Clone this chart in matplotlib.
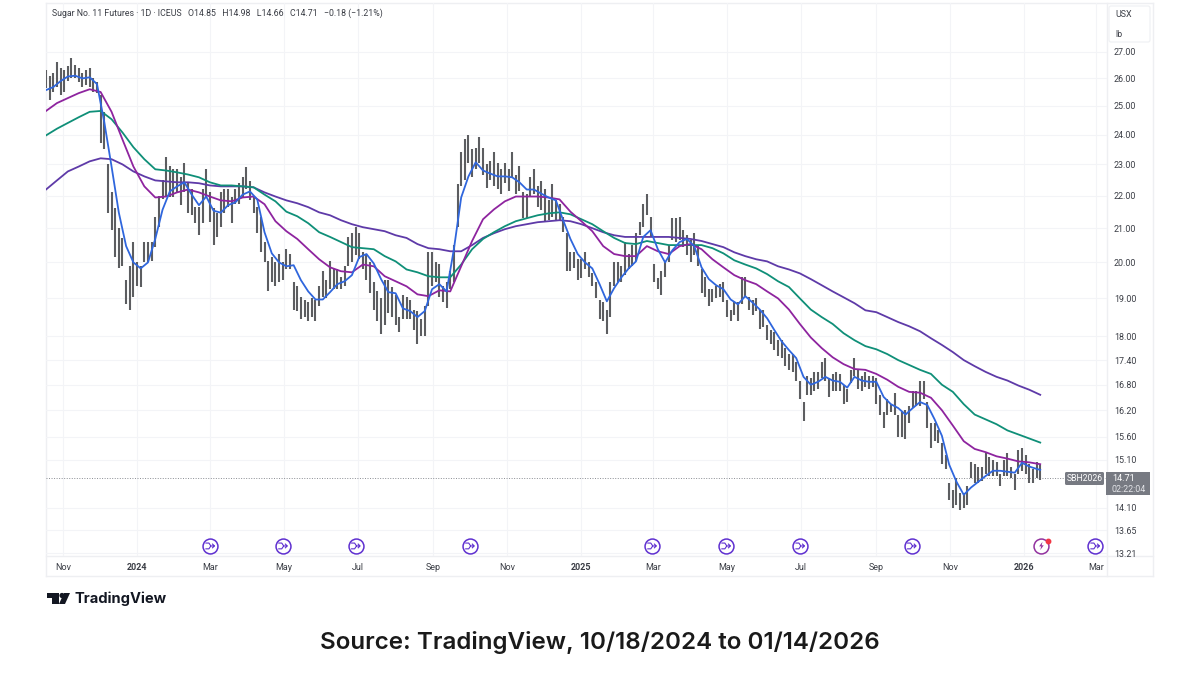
#!/usr/bin/env python3
"""Sugar No. 11 futures daily chart with moving averages, TradingView look."""

import matplotlib
matplotlib.use("Agg")
import matplotlib.pyplot as plt
import pandas as pd
from matplotlib.patches import Circle, FancyBboxPatch, Polygon, Rectangle
from matplotlib.path import Path

W, H = 1200, 675

bar_highs = [
    26.3, 26.1, 26.2, 26.6, 26.4, 26.3, 26.45, 26.75, 26.5, 26.4,
    26.2, 26.3, 26.4, 26.0, 25.85, 25.4, 24.8, 23.0, 22.1, 21.6,
    21.0, 20.7, 19.5, 19.9, 20.6, 20.0, 19.9, 20.6, 20.6, 20.6,
    21.35, 22.0, 22.5, 23.25, 22.95, 22.85, 22.85, 22.6, 23.05, 22.4,
    22.2, 21.65, 21.65, 22.2, 22.85, 22.1, 21.6, 21.45, 22.1, 22.2,
    22.2, 21.95, 22.2, 22.4, 22.6, 22.9, 22.45, 21.95, 21.65, 21.35,
    20.6, 20.05, 20.15, 20.0, 20.25, 20.0, 20.4, 20.25, 19.45, 19.35,
    19.05, 18.95, 18.9, 19.0, 18.95, 19.35, 19.75, 19.5, 20.05, 19.8,
    19.8, 19.6, 19.9, 20.75, 20.85, 21.05, 20.85, 20.3, 20.2, 20.0,
    19.45, 19.2, 19.0, 19.5, 19.5, 19.3, 19.1, 18.5, 19.1, 19.05,
    18.95, 18.7, 18.65, 18.45, 18.8, 20.3, 20.3, 20.0, 19.95, 19.35,
    19.45, 19.75, 20.5, 22.35, 23.4, 23.85, 24.0, 23.5, 23.55, 23.9,
    23.55, 23.0, 23.1, 23.4, 23.05, 22.85, 23.05, 22.85, 23.4, 22.65,
    22.95, 22.1, 22.05, 22.6, 22.85, 22.3, 22.45, 22.2, 21.85, 22.35,
    21.85, 21.75, 21.35, 20.85, 20.3, 20.3, 20.1, 20.1, 20.3, 20.0,
    19.7, 19.45, 18.95, 18.9, 18.7, 19.45, 20.0, 20.0, 19.9, 20.6,
    20.25, 20.5, 20.85, 21.2, 21.75, 22.05, 21.35, 19.95, 19.55, 19.75,
    20.0, 20.5, 21.3, 21.3, 21.35, 20.95, 20.8, 20.65, 20.85, 20.5,
    19.8, 19.6, 19.25, 19.25, 19.35, 19.4, 19.45, 18.95, 18.7, 18.9,
    18.9, 19.6, 19.6, 19.05, 18.95, 19.0, 18.7, 18.7, 18.3, 18.15,
    18.1, 17.9, 17.9, 17.7, 17.55, 17.55, 17.35, 16.9, 16.4, 17.0,
    16.95, 17.1, 17.1, 17.35, 17.45, 16.95, 17.05, 17.1, 17.05, 16.8,
    16.7, 17.15, 17.45, 17.15, 17.0, 17.1, 17.0, 17.0, 16.95, 16.55,
    16.15, 16.45, 16.35, 16.6, 16.1, 16.15, 16.2, 16.3, 16.65, 16.65,
    16.9, 16.9, 16.4, 15.9, 15.9, 15.75, 15.45, 15.2, 14.6, 14.45,
    14.7, 14.4, 14.4, 14.55, 15.05, 15.0, 14.95, 14.95, 15.25, 15.15,
    15.1, 15.05, 14.8, 15.1, 15.25, 14.95, 14.8, 15.3, 15.35, 15.2,
    15.0, 14.9, 15.05, 14.98,
]
bar_lows = [
    25.65, 25.2, 25.5, 25.7, 25.4, 25.5, 25.9, 26.0, 26.0, 25.85,
    25.7, 25.75, 25.7, 25.5, 25.45, 23.7, 23.5, 21.45, 20.95, 20.15,
    19.85, 19.9, 18.85, 18.7, 19.05, 19.35, 19.3, 20.0, 20.0, 20.05,
    20.45, 21.05, 21.9, 21.95, 21.95, 21.95, 22.1, 21.7, 22.1, 21.45,
    21.4, 21.15, 20.8, 21.15, 21.95, 21.2, 20.5, 20.75, 21.05, 21.45,
    21.65, 21.15, 21.75, 21.75, 21.95, 22.2, 21.85, 21.45, 20.85, 20.3,
    20.0, 19.2, 19.45, 19.35, 19.45, 19.5, 19.8, 19.8, 18.7, 18.65,
    18.45, 18.5, 18.4, 18.5, 18.4, 18.8, 19.05, 19.0, 19.25, 19.25,
    19.25, 19.25, 19.35, 19.9, 20.0, 20.2, 20.1, 19.8, 19.5, 19.15,
    18.7, 18.4, 18.05, 18.3, 18.6, 18.5, 18.3, 18.1, 18.45, 18.45,
    18.45, 18.15, 17.8, 18.0, 18.0, 18.8, 19.35, 19.45, 19.05, 18.9,
    18.75, 19.25, 19.45, 21.05, 22.3, 22.5, 23.05, 22.6, 22.85, 23.05,
    22.65, 22.25, 22.5, 22.3, 22.2, 22.05, 22.4, 22.15, 22.55, 22.05,
    22.15, 21.3, 21.3, 21.95, 22.05, 21.65, 21.55, 21.2, 21.25, 21.35,
    21.25, 21.25, 20.9, 19.75, 19.75, 19.85, 19.5, 19.55, 19.8, 19.6,
    19.35, 19.0, 18.45, 18.4, 18.05, 18.5, 19.35, 19.45, 19.45, 19.65,
    19.8, 19.9, 20.05, 20.8, 21.05, 21.4, 20.75, 19.45, 19.25, 19.1,
    19.6, 20.0, 20.65, 20.6, 20.65, 20.45, 20.2, 20.0, 20.2, 19.9,
    19.15, 19.05, 18.8, 18.9, 19.0, 19.05, 18.9, 18.5, 18.4, 18.55,
    18.4, 18.85, 19.05, 18.7, 18.55, 18.65, 18.2, 18.25, 17.9, 17.8,
    17.65, 17.5, 17.45, 17.25, 17.15, 17.1, 16.9, 16.45, 15.95, 16.55,
    16.55, 16.65, 16.7, 16.95, 16.9, 16.5, 16.65, 16.65, 16.65, 16.35,
    16.4, 16.85, 17.0, 16.7, 16.65, 16.75, 16.7, 16.75, 16.35, 16.1,
    15.8, 16.1, 16.15, 16.1, 15.6, 15.6, 15.55, 15.9, 16.25, 16.3,
    16.3, 16.45, 15.8, 15.35, 15.5, 15.45, 15.0, 14.9, 14.25, 14.1,
    14.15, 14.05, 14.1, 14.15, 14.7, 14.6, 14.6, 14.65, 14.8, 14.75,
    14.75, 14.75, 14.55, 14.75, 14.75, 14.7, 14.45, 14.8, 14.85, 14.8,
    14.6, 14.6, 14.7, 14.66,
]
# fastest average, sampled every second bar plus the last one
ma_fast = [
    25.57, 25.68, 25.9, 26.07, 26.1, 26.0, 26.04, 25.79, 24.43, 22.93,
    21.47, 20.47, 20.0, 19.83, 20.0, 20.68, 21.56, 22.13, 22.29, 22.42,
    22.03, 21.7, 21.97, 21.53, 21.47, 21.7, 21.79, 22.03, 22.13, 21.88,
    20.88, 20.26, 20.0, 19.89, 19.92, 19.5, 19.19, 18.97, 18.97, 19.17,
    19.39, 19.47, 19.64, 20.15, 20.24, 19.97, 19.53, 19.17, 19.14, 18.73,
    18.66, 18.5, 18.66, 19.25, 19.39, 19.19, 20.38, 21.94, 22.61, 23.07,
    22.8, 22.7, 22.61, 22.61, 22.58, 22.42, 22.19, 22.19, 22.06, 21.94,
    21.85, 21.24, 20.68, 20.24, 20.0, 19.83, 19.39, 18.92, 19.28, 19.58,
    19.83, 20.03, 20.74, 20.94, 20.38, 20.0, 20.35, 20.59, 20.68, 20.47,
    19.86, 19.53, 19.36, 19.25, 18.97, 18.84, 19.06, 18.89, 18.7, 18.47,
    18.16, 17.87, 17.65, 17.45, 16.99, 16.8, 16.87, 16.99, 16.9, 16.87,
    16.73, 16.99, 16.9, 16.87, 16.87, 16.51, 16.34, 16.25, 16.1, 16.25,
    16.39, 16.32, 15.99, 15.62, 14.99, 14.63, 14.36, 14.51, 14.63, 14.75,
    14.86, 14.86, 14.84, 14.82, 15.03, 14.95, 14.9, 14.88,
]
# slower averages, sampled every third bar
ma_mid = [
    24.82, 25.1, 25.28, 25.46, 25.6, 25.5, 24.79, 23.83, 22.93, 22.29,
    21.94, 21.97, 22.1, 22.19, 22.1, 21.97, 21.85, 21.82, 21.94, 21.97,
    21.73, 21.21, 20.91, 20.68, 20.38, 20.09, 19.86, 19.75, 19.72, 19.94,
    19.89, 19.61, 19.47, 19.33, 19.11, 19.06, 19.22, 19.19, 19.89, 20.62,
    21.27, 21.57, 21.82, 21.97, 21.97, 21.97, 21.94, 21.88, 21.5, 21.21,
    20.91, 20.47, 20.24, 20.18, 20.18, 20.47, 20.32, 20.24, 20.47, 20.53,
    20.38, 20.09, 19.86, 19.64, 19.5, 19.39, 19.19, 19.0, 18.7, 18.32,
    17.97, 17.7, 17.47, 17.3, 17.18, 17.16, 17.06, 16.92, 16.75, 16.63,
    16.61, 16.49, 16.2, 15.85, 15.5, 15.33, 15.26, 15.17, 15.12, 15.06,
    15.04, 15.0,
]
ma_slow = [
    23.97, 24.2, 24.4, 24.6, 24.79, 24.82, 24.53, 24.07, 23.57, 23.17,
    22.84, 22.8, 22.74, 22.67, 22.58, 22.42, 22.32, 22.32, 22.29, 22.26,
    22.03, 21.82, 21.5, 21.36, 21.15, 20.88, 20.74, 20.59, 20.44, 20.41,
    20.38, 20.18, 20.03, 19.8, 19.72, 19.61, 19.58, 19.58, 19.94, 20.38,
    20.68, 20.88, 21.06, 21.21, 21.3, 21.39, 21.45, 21.48, 21.42, 21.27,
    21.12, 20.91, 20.71, 20.56, 20.53, 20.62, 20.56, 20.5, 20.5, 20.5,
    20.5, 20.41, 20.26, 20.06, 19.94, 19.83, 19.67, 19.47, 19.31, 19.0,
    18.7, 18.5, 18.32, 18.08, 17.9, 17.75, 17.67, 17.55, 17.4, 17.28,
    17.16, 17.06, 16.8, 16.63, 16.34, 16.1, 15.99, 15.88, 15.74, 15.65,
    15.56, 15.47,
]
ma_long = [
    22.19, 22.48, 22.77, 22.93, 23.1, 23.2, 23.17, 23.0, 22.77, 22.61,
    22.48, 22.45, 22.42, 22.42, 22.39, 22.32, 22.29, 22.29, 22.29, 22.26,
    22.1, 21.97, 21.85, 21.76, 21.64, 21.48, 21.39, 21.24, 21.12, 21.03,
    20.97, 20.91, 20.79, 20.71, 20.53, 20.41, 20.38, 20.32, 20.32, 20.5,
    20.71, 20.85, 20.97, 21.06, 21.12, 21.18, 21.21, 21.24, 21.21, 21.12,
    21.0, 20.88, 20.79, 20.74, 20.74, 20.74, 20.74, 20.74, 20.71, 20.68,
    20.62, 20.53, 20.44, 20.29, 20.18, 20.09, 20.03, 19.89, 19.8, 19.69,
    19.53, 19.36, 19.19, 19.03, 18.87, 18.68, 18.63, 18.5, 18.37, 18.26,
    18.13, 17.95, 17.78, 17.6, 17.4, 17.25, 17.11, 16.99, 16.9, 16.78,
    16.68, 16.56,
]

price_ticks = [27, 26, 25, 24, 23, 22, 21, 20, 19, 18, 17.4, 16.8, 16.2,
               15.6, 15.1, 14.1, 13.65, 13.21]
time_ticks = ["2023-11-01", "2024-01-01", "2024-03-01", "2024-05-01", "2024-07-01",
              "2024-09-01", "2024-11-01", "2025-01-01", "2025-03-01", "2025-05-01",
              "2025-07-01", "2025-09-01", "2025-11-01", "2026-01-01", "2026-03-01"]
time_labels = ["Nov", "2024", "Mar", "May", "Jul", "Sep", "Nov", "2025", "Mar", "May",
               "Jul", "Sep", "Nov", "2026", "Mar"]
event_days = ["2024-03-01", "2024-04-30", "2024-06-29", "2024-10-01", "2025-02-28",
              "2025-04-30", "2025-06-30", "2025-09-30", "2026-02-28"]
flash_day = "2026-01-15"
last_price = 14.71
event_level = 13.35

header = ("Sugar No. 11 Futures · 1D · ICEUS   O14.85   H14.98   L14.66   C14.71   "
          "−0.18 (−1.21%)")
caption = "Source: TradingView, 10/18/2024 to 01/14/2026"

GRID = "#f3f4f7"
BORDER = "#eeeff2"
TEXT = "#3a3d45"

plt.rcParams["font.family"] = ["Roboto", "DejaVu Sans"]

fig = plt.figure(figsize=(W / 100, H / 100), dpi=100, facecolor="white")

# page layer in pixel coordinates: frame, logo, caption
page = fig.add_axes([0, 0, 1, 1], zorder=0)
page.set_xlim(0, W)
page.set_ylim(H, 0)
page.axis("off")
for x0, y0, x1, y1 in [(46, 3, 1153, 3), (46, 576, 1153, 576), (46, 3, 46, 576),
                       (1153, 3, 1153, 576), (1107, 3, 1107, 576), (46, 556, 1153, 556)]:
    page.plot([x0, x1], [y0, y1], color=BORDER, lw=1.0)

page.add_patch(Polygon([(47, 593), (59, 593), (59, 604), (52, 604), (52, 598), (47, 598)],
                       color="#131722", lw=0))
page.add_patch(Circle((62, 595.5), 2.6, color="#131722", lw=0))
page.add_patch(Polygon([(64, 593), (70, 593), (65, 604), (59, 604)], color="#131722", lw=0))
page.text(74.5, 599, "TradingView", fontsize=10.6, fontweight="bold", color="#131722",
          family="Inter", va="center", ha="left")
page.text(600, 642, caption, fontsize=17.4, fontweight=600, color="#1a1a1a",
          family="Inter", va="center", ha="center")

# price panel
ax = fig.add_axes([46 / W, 1 - 556 / H, (1107 - 46) / W, (556 - 3) / H], zorder=1)
ax.patch.set_alpha(0)
bar_dates = pd.date_range("2023-10-18", periods=len(bar_highs), freq="3D")
fast_dates = list(bar_dates[::2]) + [bar_dates[-1]]
ma_dates = bar_dates[::3]

ax.set_yscale("log")
ax.set_ylim(13.16, 28.95)
ax.set_xlim(pd.Timestamp("2023-10-18"), pd.Timestamp("2026-03-10"))

ax.vlines(bar_dates, bar_lows, bar_highs, color="#5c5d60", lw=1.5, zorder=3)
ax.plot(ma_dates, ma_long, color="#5e3aa8", lw=1.3, zorder=4)
ax.plot(ma_dates, ma_slow, color="#0f8f78", lw=1.3, zorder=4)
ax.plot(ma_dates, ma_mid, color="#8e249f", lw=1.3, zorder=4)
ax.plot(fast_dates, ma_fast, color="#2f66dd", lw=1.3, zorder=5)
ax.axhline(last_price, color="#8a8d93", lw=0.7, ls=(0, (1, 1.6)), zorder=2)

ax.yaxis.tick_right()
ax.set_yticks(price_ticks)
ax.set_yticklabels([f"{t:.2f}" for t in price_ticks], fontsize=6.4, color=TEXT)
ax.minorticks_off()
ax.set_xticks(pd.to_datetime(time_ticks))
ax.set_xticklabels(time_labels, fontsize=6.5, color=TEXT)
for lab, text in zip(ax.get_xticklabels(), time_labels):
    if text.isdigit():
        lab.set_fontweight("bold")
ax.tick_params(axis="both", length=0)
ax.tick_params(axis="x", pad=5)
ax.tick_params(axis="y", pad=5)
ax.grid(True, color=GRID, lw=0.8, zorder=0)
ax.set_axisbelow(True)
for side in ax.spines.values():
    side.set_visible(False)

# event badges sit inside the panel
event_dates = pd.to_datetime(event_days)
levels = [event_level] * len(event_dates)
M, L = Path.MOVETO, Path.LINETO
arrow_mark = Path(
    [(-0.7, 0.45), (-0.15, 0.45), (0.15, 0), (0.7, 0),
     (-0.7, -0.45), (-0.15, -0.45), (0.15, 0),
     (0.35, 0.35), (0.7, 0), (0.35, -0.35)],
    [M, L, L, L, M, L, L, M, L, L],
)
ax.scatter(event_dates, levels, s=115, facecolor="white", edgecolor="#5f30d0", lw=1.1, zorder=6)
ax.scatter(event_dates, levels, s=42, marker=arrow_mark, facecolor="none", edgecolor="#5f30d0",
           lw=0.8, zorder=7)
bolt_mark = Path([(0.25, 1), (-0.55, -0.1), (-0.05, -0.1), (-0.3, -1), (0.55, 0.15),
                  (0.05, 0.15), (0.25, 1)])
flash_date = pd.to_datetime([flash_day])
ax.scatter(flash_date, [event_level], s=115, facecolor="white", edgecolor="#92329f", lw=1.1, zorder=6)
ax.scatter(flash_date, [event_level], s=36, marker=bolt_mark, facecolor="#92329f",
           edgecolor="none", zorder=7)
ax.plot(flash_date + pd.Timedelta(days=5), [13.45], "o", ms=3.2, color="#f23645", zorder=8)

# overlay: scale widgets and last price tags
top = fig.add_axes([0, 0, 1, 1], zorder=2)
top.set_xlim(0, W)
top.set_ylim(H, 0)
top.axis("off")
top.patch.set_alpha(0)
top.add_patch(FancyBboxPatch((1109, 6), 41, 36, boxstyle="round,pad=0,rounding_size=2",
                             facecolor="white", edgecolor="#f0f1f4", lw=0.9))
top.text(1115, 14.5, "USX", fontsize=6.4, color=TEXT, va="center")
top.text(1115, 34.5, "lb", fontsize=6.4, color=TEXT, va="center")
top.add_patch(FancyBboxPatch((1065, 472), 39, 13, boxstyle="round,pad=0,rounding_size=1.5",
                             facecolor="#777a82", edgecolor="none"))
top.text(1084.5, 478.8, "SBH2026", fontsize=6.2, color="white", va="center", ha="center")
top.add_patch(Rectangle((1106, 472), 44, 22.5, facecolor="#777a82", edgecolor="none"))
top.text(1112, 478.5, "14.71", fontsize=6.6, color="white", va="center")
top.text(1111.5, 489, "02:22:04", fontsize=6.4, color="#e3e4e8", va="center")
top.text(52, 13, header, fontsize=6.3, color=TEXT, va="center")

fig.savefig("out.png", dpi=100)
